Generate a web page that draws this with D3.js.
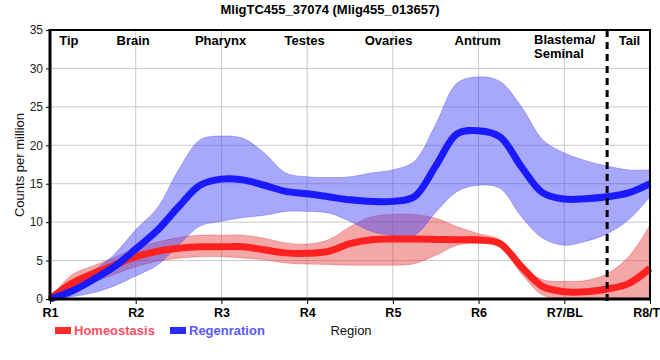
<!DOCTYPE html>
<html><head><meta charset="utf-8">
<script src="https://cdn.jsdelivr.net/npm/d3@7"></script>
<style>body{margin:0;background:#fff}svg{display:block;font-family:"Liberation Sans",Arial,sans-serif}</style>
</head><body>
<svg id="c" width="660" height="360"></svg>
<script>
const title = "MligTC455_37074 (Mlig455_013657)";
const xTickLabels = ["R1","R2","R3","R4","R5","R6","R7/BL","R8/TL"];
const regionLabels = ["Tip","Brain","Pharynx","Testes","Ovaries","Antrum","Blastema/|Seminal","Tail"];
const regionLabelPos = [1.22,1.97,2.99,3.97,4.95,5.99,6.82,7.76];
const positions = [1,1.25,1.5,1.75,2,2.25,2.5,2.75,3,3.25,3.5,3.75,4,4.25,4.5,4.75,5,5.25,5.5,5.75,6,6.25,6.5,6.75,7,7.25,7.5,7.75,8];
const regenMean = [0,1.0,2.5,4.2,6.5,8.9,12.0,14.8,15.6,15.5,14.8,14.0,13.7,13.3,12.9,12.7,12.7,13.3,17.3,21.5,21.9,21.1,17.2,13.8,13.0,13.05,13.3,13.8,15.0];
const regenHigh = [0,1.6,3.6,5.8,9.0,11.8,16.8,20.7,21.2,20.9,19.0,16.4,15.9,15.8,15.9,16.4,16.8,17.9,22.7,28.1,28.9,28.3,25.0,20.7,19.0,18.0,17.3,16.8,16.8];
const regenLow = [0,0.3,0.8,1.7,3.0,4.4,7.0,9.5,10.1,10.6,10.9,11.4,11.4,11.2,10.1,8.8,8.3,8.3,11.3,14.0,14.8,14.4,10.7,7.9,7.0,7.5,8.5,10.3,13.3];
const homeoMean = [0,2.0,3.3,4.4,5.5,6.2,6.6,6.8,6.8,6.8,6.4,6.0,5.95,6.2,7.2,7.7,7.8,7.8,7.75,7.7,7.7,7.2,4.2,1.6,0.95,0.95,1.3,2.0,4.0];
const homeoHigh = [0,3.1,4.3,5.4,6.6,7.4,8.0,8.3,8.3,8.3,7.9,7.3,7.15,7.7,9.4,10.7,11.0,11.0,10.5,9.4,8.5,7.7,4.4,2.5,2.3,2.4,3.3,5.5,9.6];
const homeoLow = [0,1.2,2.1,3.2,4.2,4.9,5.3,5.5,5.5,5.35,5.1,4.7,4.55,4.5,4.4,4.4,4.4,4.6,5.7,7.0,7.2,6.8,3.3,0.5,0.1,0.1,0.1,0.2,0];
const yTicks = [0,5,10,15,20,25,30,35];
const seriesNames = ["Homeostasis","Regenration"];

const svg = d3.select("#c");
const L=50,R=650,T=30,B=299;
const x = d3.scaleLinear().domain([1,8]).range([L,R]);
const y = d3.scaleLinear().domain([0,35]).range([B,T]);

// grid
svg.append("g").selectAll("line").data(yTicks.filter(v=>v>0&&v<35)).join("line")
  .attr("x1",L).attr("x2",R).attr("y1",d=>y(d)).attr("y2",d=>y(d))
  .attr("stroke","#c8c8c8").attr("stroke-width",1);
svg.append("g").selectAll("line").data(d3.range(2,8)).join("line")
  .attr("x1",d=>x(d)).attr("x2",d=>x(d)).attr("y1",T).attr("y2",B)
  .attr("stroke","#c8c8c8").attr("stroke-width",1);

const crv = d3.curveCatmullRom.alpha(0.5);
const pts = (lo,hi)=>positions.map((p,i)=>({p,lo:lo[i],hi:hi[i]}));
const area = d3.area().x(d=>x(d.p)).y0(d=>y(Math.max(0,d.lo))).y1(d=>y(d.hi)).curve(crv);
const line = d3.line().x(d=>x(d.p)).y(d=>y(d.v)).curve(crv);

svg.append("path").datum(pts(homeoLow,homeoHigh)).attr("d",area)
  .attr("fill","rgba(228,60,60,0.45)").attr("stroke","rgba(220,60,60,0.35)").attr("stroke-width",1);
svg.append("path").datum(pts(regenLow,regenHigh)).attr("d",area)
  .attr("fill","rgba(70,70,245,0.47)").attr("stroke","rgba(60,60,240,0.35)").attr("stroke-width",1);

svg.append("path").datum(positions.map((p,i)=>({p,v:homeoMean[i]}))).attr("d",line)
  .attr("fill","none").attr("stroke","#ff2020").attr("stroke-width",7);
svg.append("path").datum(positions.map((p,i)=>({p,v:regenMean[i]}))).attr("d",line)
  .attr("fill","none").attr("stroke","#1a1aff").attr("stroke-width",7);

// frame top/right
svg.append("line").attr("x1",L).attr("x2",R+1).attr("y1",T).attr("y2",T).attr("stroke","#000").attr("stroke-width",2);
svg.append("line").attr("x1",R).attr("x2",R).attr("y1",T).attr("y2",B).attr("stroke","#000").attr("stroke-width",2);

// dashed divider
svg.append("line").attr("x1",x(7.5)).attr("x2",x(7.5)).attr("y1",T).attr("y2",B+5)
  .attr("stroke","#000").attr("stroke-width",3).attr("stroke-dasharray","7,5");

// axes
const yAxis = svg.append("g").attr("transform",`translate(${L},0)`)
  .call(d3.axisLeft(y).tickValues(yTicks).tickSize(4).tickSizeOuter(0));
yAxis.select(".domain").remove();
yAxis.selectAll("text").attr("font-size",12).attr("fill","#222").attr("font-family","Liberation Sans, Arial");
svg.append("line").attr("x1",L).attr("x2",L).attr("y1",T-1).attr("y2",B+1.5).attr("stroke","#000").attr("stroke-width",3);

const xAxis = svg.append("g").attr("transform",`translate(0,${B})`)
  .call(d3.axisBottom(x).tickValues(d3.range(1,9)).tickFormat((d,i)=>xTickLabels[i]).tickSize(5).tickSizeOuter(0).tickPadding(4));
xAxis.select(".domain").remove();
xAxis.selectAll("text").attr("font-size",12.5).attr("font-weight","bold").attr("fill","#000").attr("font-family","Liberation Sans, Arial");
svg.append("line").attr("x1",L-1.5).attr("x2",R+1).attr("y1",B).attr("y2",B).attr("stroke","#000").attr("stroke-width",3);

// region labels
regionLabels.forEach((lab,i)=>{
  const parts = lab.split("|");
  const t = svg.append("text").attr("font-size",13).attr("font-weight","bold").attr("fill","#000")
    .attr("text-anchor", parts.length>1 ? "start" : "middle");
  if(parts.length>1){
    t.attr("x",534).attr("y",44);
    parts.forEach((s,j)=>t.append("tspan").attr("x",534).attr("dy",j?14:0).text(s));
  } else {
    t.attr("x",x(regionLabelPos[i])).attr("y",45).text(lab);
  }
});

// title
svg.append("text").attr("x",330).attr("y",14).attr("text-anchor","middle")
  .attr("font-size",13).attr("font-weight","bold").text(title);

// axis titles
svg.append("text").attr("transform","translate(24,165) rotate(-90)").attr("text-anchor","middle")
  .attr("font-size",13).attr("fill","#111").text("Counts per million");
svg.append("text").attr("x",351).attr("y",335).attr("text-anchor","middle")
  .attr("font-size",13).attr("fill","#111").text("Region");

// legend
const legColors = ["#ff2a2a","#2a2aff"];
const legText = ["#ff4f62","#5a5aff"];
const legX = [55,170];
seriesNames.forEach((n,i)=>{
  svg.append("rect").attr("x",legX[i]).attr("y",327).attr("width",16).attr("height",7).attr("fill",legColors[i]);
  svg.append("text").attr("x",legX[i]+19).attr("y",335).attr("font-size",13).attr("font-weight","bold")
    .attr("fill",legText[i]).text(n);
});
</script>
</body></html>
